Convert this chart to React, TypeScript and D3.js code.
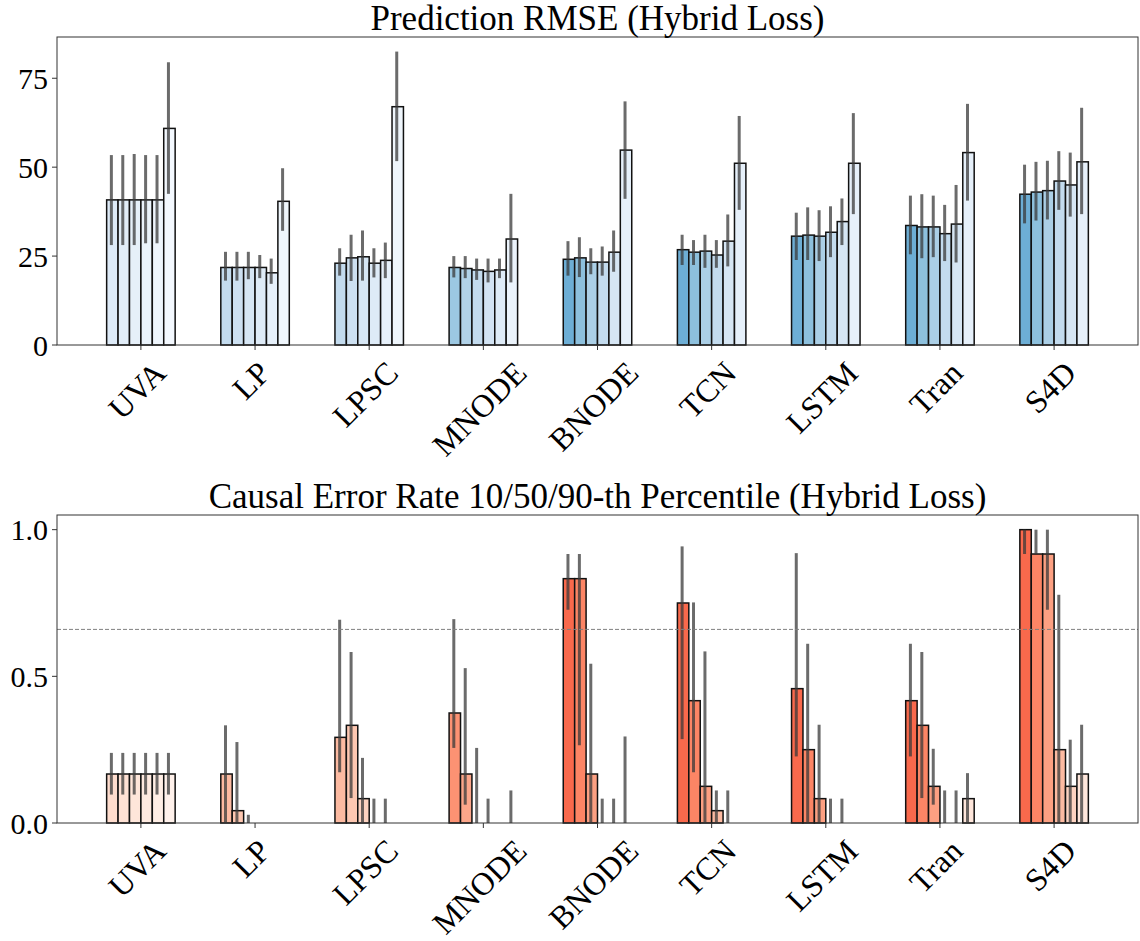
import { useRef, useEffect } from "react";
import * as d3 from "d3";

const methods = ["UVA", "LP", "LPSC", "MNODE", "BNODE", "TCN", "LSTM", "Tran", "S4D"];

// Prediction RMSE: bar height, lower and upper error ends (6 bars per method)
const rmseMean = [
  [40.8, 40.8, 40.8, 40.8, 40.8, 60.9],
  [21.8, 21.8, 21.8, 21.8, 20.3, 40.4],
  [23.0, 24.5, 24.8, 23.0, 23.8, 67.0],
  [21.8, 21.5, 21.1, 20.7, 21.1, 29.8],
  [24.1, 24.5, 23.3, 23.3, 26.1, 54.8],
  [26.8, 26.1, 26.4, 25.3, 29.2, 51.1],
  [30.6, 30.9, 30.6, 31.7, 34.7, 51.1],
  [33.6, 33.2, 33.2, 31.3, 34.0, 54.1],
  [42.4, 43.0, 43.4, 46.1, 45.0, 51.5],
];
const rmseLo = [
  [28.1, 28.1, 28.1, 28.6, 28.6, 42.5],
  [18.1, 18.1, 18.5, 18.8, 17.2, 32.1],
  [19.5, 18.0, 18.1, 19.0, 18.8, 51.7],
  [19.0, 18.8, 18.3, 17.6, 18.8, 17.6],
  [19.5, 19.1, 19.9, 19.5, 20.6, 41.1],
  [22.5, 22.5, 21.7, 21.7, 22.1, 38.0],
  [23.9, 23.9, 23.6, 24.7, 28.1, 36.8],
  [25.5, 24.4, 24.7, 23.6, 23.2, 40.6],
  [34.2, 35.0, 35.3, 38.0, 36.1, 36.8],
];
const rmseHi = [
  [53.4, 53.4, 53.7, 53.4, 53.4, 79.5],
  [26.2, 26.2, 26.2, 25.3, 24.3, 49.7],
  [27.2, 31.0, 32.2, 27.2, 28.8, 82.5],
  [25.0, 25.0, 24.3, 24.3, 24.3, 42.5],
  [29.2, 30.3, 27.2, 27.7, 32.2, 68.5],
  [31.0, 29.5, 31.0, 29.5, 36.7, 64.4],
  [37.2, 38.7, 37.9, 39.0, 41.2, 65.2],
  [42.0, 42.4, 42.0, 39.4, 45.0, 67.8],
  [50.7, 51.5, 51.8, 54.5, 54.1, 66.7],
];

// Causal error rate: median, 10th and 90th percentile
const cerMed = [
  [0.167, 0.167, 0.167, 0.167, 0.167, 0.167],
  [0.167, 0.042, 0, 0, 0, 0],
  [0.292, 0.333, 0.083, 0, 0, 0],
  [0.375, 0.167, 0, 0, 0, 0],
  [0.833, 0.833, 0.167, 0, 0, 0],
  [0.75, 0.417, 0.125, 0.042, 0, 0],
  [0.458, 0.25, 0.083, 0, 0, 0],
  [0.417, 0.333, 0.125, 0, 0, 0.083],
  [1.0, 0.917, 0.917, 0.25, 0.125, 0.167],
];
const cerLo = [
  [0.097, 0.097, 0.097, 0.097, 0.097, 0.097],
  [0, 0, 0, 0, 0, 0],
  [0.173, 0.085, 0, 0, 0, 0],
  [0.256, 0.0625, 0, 0, 0, 0],
  [0.727, 0.265, 0, 0, 0, 0],
  [0.286, 0.173, 0, 0, 0, 0],
  [0.227, 0, 0, 0, 0, 0],
  [0.227, 0.085, 0.0625, 0, 0, 0],
  [0.917, 0.917, 0.727, 0, 0, 0],
];
const cerHi = [
  [0.239, 0.239, 0.239, 0.239, 0.239, 0.239],
  [0.333, 0.276, 0.028, 0, 0, 0],
  [0.693, 0.583, 0.222, 0.083, 0.083, 0],
  [0.695, 0.528, 0.256, 0.083, 0, 0.111],
  [0.917, 0.917, 0.543, 0.083, 0.083, 0.295],
  [0.943, 0.752, 0.585, 0.111, 0.111, 0],
  [0.92, 0.611, 0.335, 0.083, 0.083, 0],
  [0.611, 0.583, 0.253, 0.111, 0.111, 0.17],
  [1.0, 1.0, 1.0, 0.778, 0.284, 0.335],
];
const cerThreshold = 0.66;

// colormap position of the first bar of each method
const shadeBase = [0.13, 0.25, 0.25, 0.375, 0.5, 0.5, 0.5, 0.5, 0.5];

const FONT = "'Liberation Serif', 'Times New Roman', serif";

function drawPanel(svg, cfg) {
  const { top, bottom, left, right, yMax, ticks, fmt, mean, lo, hi, interp, title, hline } = cfg;
  const barW = 0.1;

  const x = d3.scaleLinear().domain([-0.735, 8.735]).range([left, right]);
  const y = d3.scaleLinear().domain([0, yMax]).range([bottom, top]);
  const g = svg.append("g");

  // bars
  mean.forEach((row, i) => {
    row.forEach((v, j) => {
      if (v <= 0) return;
      const cx = i + (j - 2.5) * barW;
      g.append("rect")
        .attr("x", x(cx - barW / 2))
        .attr("y", y(v))
        .attr("width", x(barW) - x(0))
        .attr("height", y(0) - y(v))
        .attr("fill", interp(shadeBase[i] * (1 - j / 6)))
        .attr("stroke", "#111")
        .attr("stroke-width", 1.5);
    });
  });

  // error bars
  mean.forEach((row, i) => {
    row.forEach((v, j) => {
      if (hi[i][j] - lo[i][j] <= 0) return;
      const cx = x(i + (j - 2.5) * barW) - 1;
      g.append("line")
        .attr("x1", cx).attr("x2", cx)
        .attr("y1", y(lo[i][j])).attr("y2", y(hi[i][j]))
        .attr("stroke", "#3a3a3a")
        .attr("stroke-opacity", 0.75)
        .attr("stroke-width", 3);
    });
  });

  if (hline !== undefined) {
    g.append("line")
      .attr("x1", left).attr("x2", right)
      .attr("y1", y(hline)).attr("y2", y(hline))
      .attr("stroke", "#808080")
      .attr("stroke-width", 1)
      .attr("stroke-dasharray", "4,2");
  }

  // frame
  g.append("rect")
    .attr("x", left).attr("y", top)
    .attr("width", right - left).attr("height", bottom - top)
    .attr("fill", "none")
    .attr("stroke", "#333")
    .attr("stroke-width", 1);

  // y axis
  ticks.forEach(t => {
    g.append("line")
      .attr("x1", left - 5).attr("x2", left)
      .attr("y1", y(t)).attr("y2", y(t))
      .attr("stroke", "#333");
    g.append("text")
      .attr("x", left - 9)
      .attr("y", y(t))
      .attr("text-anchor", "end")
      .attr("dominant-baseline", "central")
      .style("font-family", FONT)
      .style("font-size", "30px")
      .text(fmt(t));
  });

  // x axis, labels rotated 45 degrees, centred under the tick
  methods.forEach((m, i) => {
    g.append("line")
      .attr("x1", x(i)).attr("x2", x(i))
      .attr("y1", bottom).attr("y2", bottom + 5)
      .attr("stroke", "#333");
    const lab = g.append("text")
      .attr("text-anchor", "middle")
      .attr("dominant-baseline", "central")
      .style("font-family", FONT)
      .style("font-size", "32px")
      .text(m);
    const L = lab.node().getComputedTextLength();
    const cy = bottom + 12 + (L + 29) * 0.3535;
    const cx = x(i) - 4;
    lab.attr("transform", `translate(${cx},${cy}) rotate(-45)`);
  });

  // title
  g.append("text")
    .attr("x", (left + right) / 2)
    .attr("y", top - 7)
    .attr("text-anchor", "middle")
    .style("font-family", FONT)
    .style("font-size", "35px")
    .text(title);
}

export default function App() {
  const svgRef = useRef(null);

  useEffect(() => {
    const svg = d3.select(svgRef.current);
    svg.selectAll("*").remove();

    drawPanel(svg, {
      top: 37, bottom: 345, left: 57, right: 1138,
      yMax: 86.6, ticks: [0, 25, 50, 75], fmt: d3.format("d"),
      mean: rmseMean, lo: rmseLo, hi: rmseHi,
      interp: d3.interpolateBlues,
      title: "Prediction RMSE (Hybrid Loss)",
    });

    drawPanel(svg, {
      top: 515, bottom: 823, left: 57, right: 1138,
      yMax: 1.05, ticks: [0, 0.5, 1.0], fmt: d3.format(".1f"),
      mean: cerMed, lo: cerLo, hi: cerHi,
      interp: d3.interpolateReds,
      title: "Causal Error Rate 10/50/90-th Percentile (Hybrid Loss)",
      hline: cerThreshold,
    });
  }, []);

  return (
    <svg
      ref={svgRef}
      width={1140}
      height={941}
      style={{ position: "absolute", left: 0, top: 0, background: "#fff", display: "block" }}
    />
  );
}
